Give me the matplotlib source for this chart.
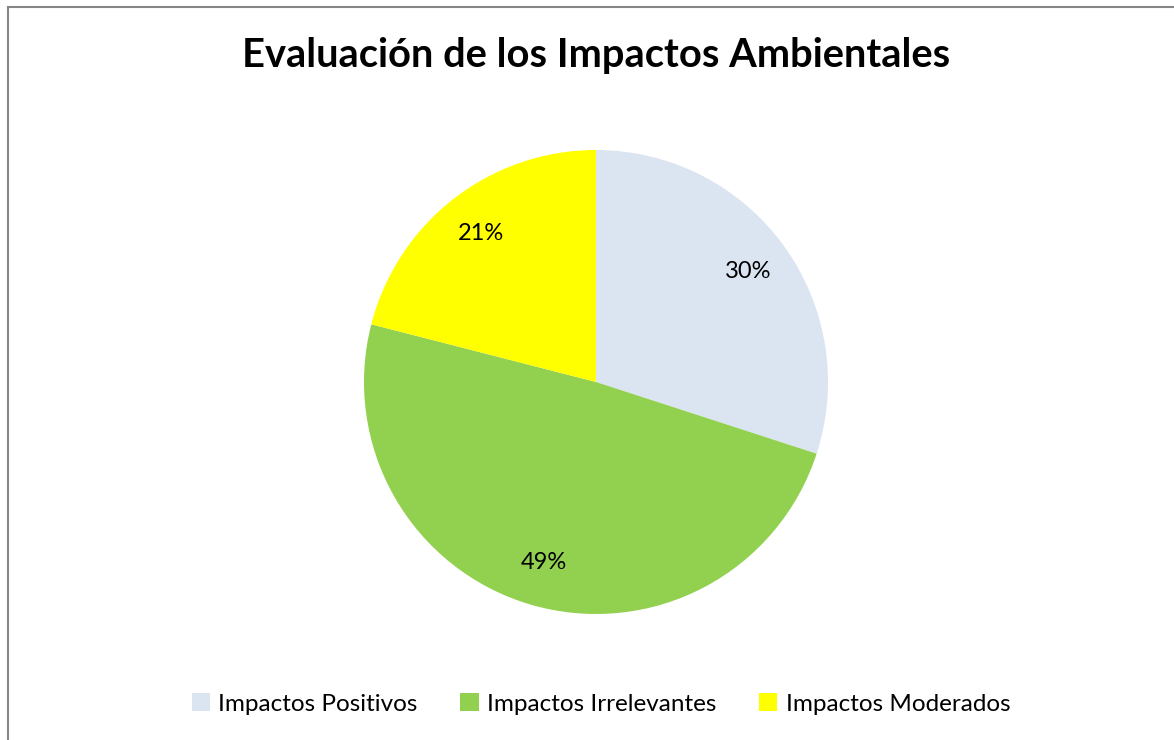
import matplotlib
matplotlib.use("Agg")
import matplotlib.pyplot as plt
from matplotlib.patches import Rectangle, Patch

plt.rcParams['font.family'] = ['Lato', 'DejaVu Sans']

# Impact categories and their share (%)
categories = ['Impactos Positivos', 'Impactos Irrelevantes', 'Impactos Moderados']
shares = [30, 49, 21]
colors = ['#DBE5F1', '#92D050', '#FFFF00']

W, H = 1174, 740
fig = plt.figure(figsize=(W / 100, H / 100), dpi=100)

# chart frame (only left and top edges fall inside the image)
fig.patches.append(Rectangle((8 / W, -0.1), 1.2, 1 - 7 / H + 0.1,
                             transform=fig.transFigure, fill=False,
                             edgecolor='#868686', linewidth=1.5))

# pie axes: center (596, 382), radius 232 px
r = 232
cx, cy = 596, 382
ax = fig.add_axes([(cx - r) / W, 1 - (cy + r) / H, 2 * r / W, 2 * r / H])
wedges, texts, autotexts = ax.pie(
    shares, colors=colors, startangle=90, counterclock=False,
    autopct='%1.0f%%', pctdistance=0.81, radius=1.0,
    wedgeprops=dict(linewidth=0),
    textprops=dict(fontsize=17, color='black'))
ax.set_xlim(-1, 1)
ax.set_ylim(-1, 1)
ax.set_aspect('equal')
ax.axis('off')

fig.text(596 / W, 1 - 55 / H, 'Evaluación de los Impactos Ambientales',
         ha='center', va='center', fontsize=28.7, fontweight='bold')

handles = [Patch(facecolor=c, edgecolor='none') for c in colors]
fig.legend(handles, categories, loc='center', ncol=3,
           bbox_to_anchor=(601 / W, 1 - 704 / H), frameon=False,
           fontsize=17.5, handlelength=0.75, handleheight=0.75,
           handletextpad=0.35, columnspacing=1.75)

fig.savefig('out.png', dpi=100, facecolor='white')
